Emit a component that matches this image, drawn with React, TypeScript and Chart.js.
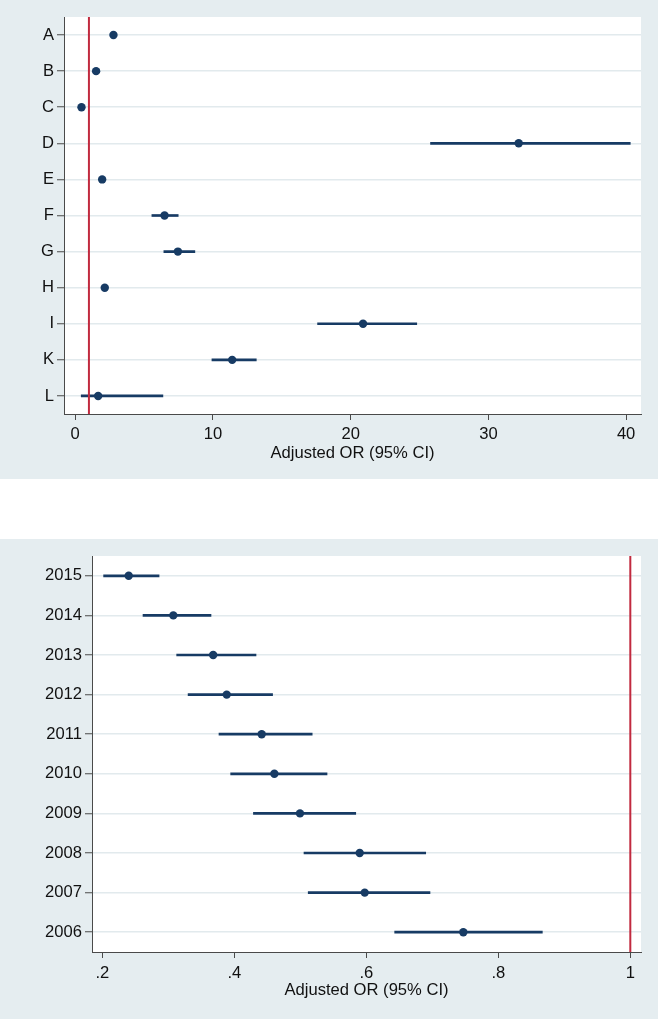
import React, { useEffect, useRef } from 'react';
import { Chart, registerables } from 'chart.js';
Chart.register(...registerables);

// ---- Top panel data ----
const topCategories = ['A', 'B', 'C', 'D', 'E', 'F', 'G', 'H', 'I', 'K', 'L'];
const topEstimates = [2.78, 1.52, 0.46, 32.2, 1.96, 6.49, 7.46, 2.15, 20.9, 11.4, 1.67];
const topLower = [2.55, 1.35, 0.38, 25.8, 1.8, 5.57, 6.44, 1.95, 17.6, 9.93, 0.44];
const topUpper = [3.02, 1.7, 0.56, 40.3, 2.12, 7.48, 8.69, 2.36, 24.8, 13.15, 6.37];
const topTicks = [0, 10, 20, 30, 40];
const topMin = -0.81;
const topMax = 41.08;
const topRef = 1;

// ---- Bottom panel data ----
const bottomCategories = ['2015', '2014', '2013', '2012', '2011', '2010', '2009', '2008', '2007', '2006'];
const bottomEstimates = [0.24, 0.3076, 0.368, 0.3885, 0.4415, 0.4607, 0.4995, 0.59, 0.5976, 0.747];
const bottomLower = [0.202, 0.2617, 0.3127, 0.33, 0.3768, 0.3945, 0.429, 0.5056, 0.512, 0.643];
const bottomUpper = [0.286, 0.3647, 0.4329, 0.458, 0.518, 0.5405, 0.584, 0.69, 0.6965, 0.8667];
const bottomTicks = [0.2, 0.4, 0.6, 0.8, 1];
const bottomMin = 0.1844;
const bottomMax = 1.0162;
const bottomRef = 1;

const axisTitle = 'Adjusted OR (95% CI)';

const NAVY = '#173b64';
const RED = '#c12a3f';
const PANEL_BG = '#e5edf0';
const GRID = '#e2eaed';
const AXIS = '#4a4a4a';
const FONT = "'Liberation Sans', Arial, Helvetica, sans-serif";
const FONT_SIZE = 16.6;

const fmtTick = (v: number) => {
  const s = String(Math.round(v * 1000) / 1000);
  return s.startsWith('0.') ? s.slice(1) : s;
};

type PanelProps = {
  categories: string[];
  estimates: number[];
  lower: number[];
  upper: number[];
  ticks: number[];
  min: number;
  max: number;
  refValue: number;
  width: number;
  height: number;
  yAxisWidth: number;
  xAxisHeight: number;
  titleBottomPad: number;
  tickPad: number;
};

function Panel(p: PanelProps) {
  const ref = useRef<HTMLCanvasElement | null>(null);
  useEffect(() => {
    if (!ref.current) return;
    const plotBg = {
      id: 'plotBg',
      beforeDraw(chart: any) {
        const { ctx, chartArea } = chart;
        ctx.save();
        ctx.fillStyle = '#ffffff';
        ctx.fillRect(chartArea.left, chartArea.top, chartArea.right - chartArea.left, chartArea.bottom - chartArea.top);
        ctx.restore();
      },
    };
    const refLine = {
      id: 'refLine',
      afterDatasetsDraw(chart: any) {
        const { ctx, chartArea } = chart;
        const x = chart.scales.x.getPixelForValue(p.refValue);
        ctx.save();
        ctx.strokeStyle = RED;
        ctx.lineWidth = 2;
        ctx.beginPath();
        ctx.moveTo(x, chartArea.top);
        ctx.lineTo(x, chartArea.bottom);
        ctx.stroke();
        ctx.restore();
      },
    };
    const chart = new Chart(ref.current, {
      type: 'bar',
      data: {
        labels: p.categories,
        datasets: [
          {
            type: 'line',
            data: p.estimates,
            showLine: false,
            pointRadius: 4.2,
            pointBackgroundColor: NAVY,
            pointBorderWidth: 0,
            borderColor: NAVY,
          } as any,
          {
            type: 'bar',
            data: p.lower.map((l, i) => [l, p.upper[i]]),
            backgroundColor: NAVY,
            borderWidth: 0,
            barThickness: 2,
          } as any,
        ],
      },
      options: {
        indexAxis: 'y',
        animation: false,
        responsive: false,
        maintainAspectRatio: false,
        layout: { padding: { top: 17, right: 17, left: 0, bottom: 0 } },
        plugins: { legend: { display: false }, tooltip: { enabled: false } },
        scales: {
          x: {
            type: 'linear',
            position: 'bottom',
            min: p.min,
            max: p.max,
            afterBuildTicks: (s: any) => {
              s.ticks = p.ticks.map((v) => ({ value: v }));
            },
            afterFit: (s: any) => {
              s.height = p.xAxisHeight;
            },
            ticks: {
              autoSkip: false,
              maxRotation: 0,
              color: '#111',
              font: { family: FONT, size: FONT_SIZE },
              padding: p.tickPad,
              callback: (v: any) => fmtTick(Number(v)),
            },
            grid: { drawOnChartArea: false, drawTicks: true, tickLength: 6, tickColor: AXIS },
            border: { display: true, color: AXIS, width: 1 },
            title: {
              display: true,
              text: axisTitle,
              color: '#111',
              font: { family: FONT, size: FONT_SIZE },
              padding: { top: 0, bottom: p.titleBottomPad },
            },
          },
          y: {
            type: 'category',
            position: 'left',
            offset: true,
            afterFit: (s: any) => {
              s.width = p.yAxisWidth;
            },
            ticks: { color: '#111', font: { family: FONT, size: FONT_SIZE }, padding: 3, autoSkip: false },
            grid: { offset: false, color: GRID, lineWidth: 1.5, tickLength: 7, tickColor: AXIS, tickWidth: 1 },
            border: { display: true, color: AXIS, width: 1 },
          },
        },
      } as any,
      plugins: [plotBg, refLine],
    });
    return () => chart.destroy();
  }, []);
  return <canvas ref={ref} width={p.width} height={p.height} style={{ display: 'block' }} />;
}

export default function App() {
  return (
    <div style={{ position: 'absolute', left: 0, top: 0, width: 658, height: 1019, background: '#ffffff' }}>
      <div style={{ position: 'absolute', left: 0, top: 0, width: 658, height: 479, background: PANEL_BG }}>
        <Panel
          categories={topCategories}
          estimates={topEstimates}
          lower={topLower}
          upper={topUpper}
          ticks={topTicks}
          min={topMin}
          max={topMax}
          refValue={topRef}
          width={658}
          height={479}
          yAxisWidth={64}
          xAxisHeight={65}
          titleBottomPad={16}
          tickPad={4}
        />
      </div>
      <div style={{ position: 'absolute', left: 0, top: 539, width: 658, height: 480, background: PANEL_BG }}>
        <Panel
          categories={bottomCategories}
          estimates={bottomEstimates}
          lower={bottomLower}
          upper={bottomUpper}
          ticks={bottomTicks}
          min={bottomMin}
          max={bottomMax}
          refValue={bottomRef}
          width={658}
          height={480}
          yAxisWidth={92}
          xAxisHeight={67}
          titleBottomPad={19}
          tickPad={5}
        />
      </div>
    </div>
  );
}
